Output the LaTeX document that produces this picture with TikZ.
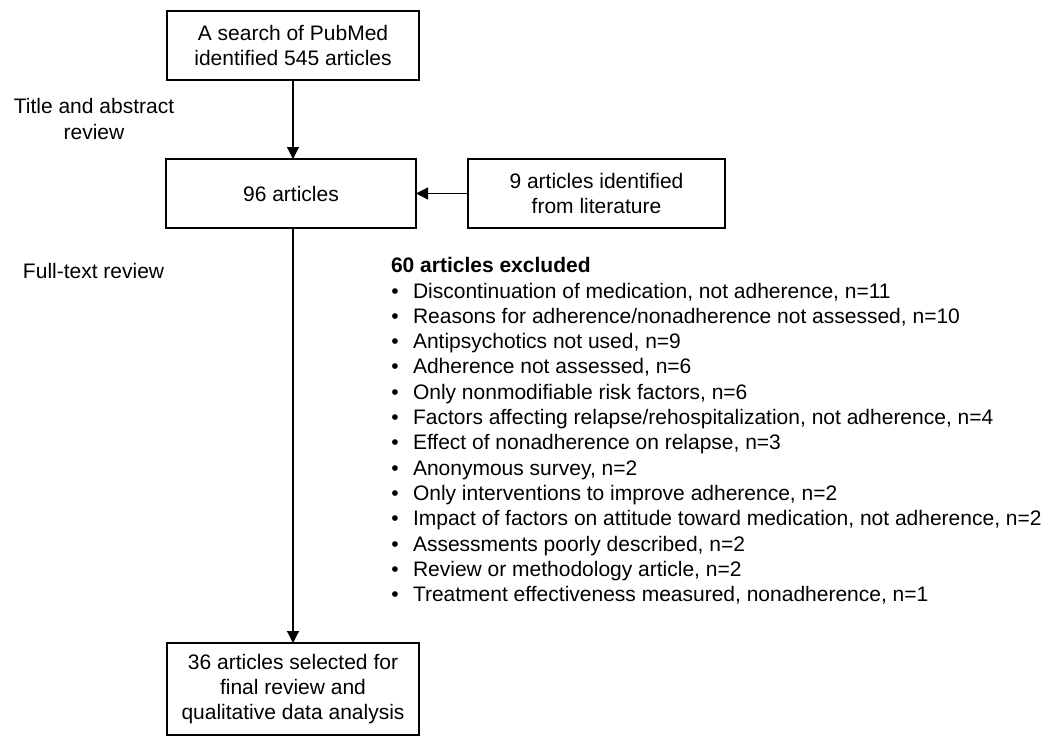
\documentclass[tikz,border=0pt]{standalone}
\usepackage{fontspec}
\setmainfont{Liberation Sans}
\usetikzlibrary{arrows.meta}
\begin{document}
\begin{tikzpicture}[x=1pt,y=-1pt,
  every node/.style={font=\fontsize{21}{25.3}\selectfont, inner sep=0pt, outer sep=0pt},
  box/.style={draw, line width=1.2pt, align=center},
  conn/.style={line width=1.2pt, -{Triangle[width=12pt,length=12pt]}}]
\useasboundingbox (0,0) rectangle (1052,736);
\node[box, minimum width=252pt, minimum height=69pt] (search) at (293,45.5) {A search of PubMed\\identified 545 articles};
\node[box, minimum width=250pt, minimum height=69pt] (n96) at (291,193.5) {96 articles};
\node[box, minimum width=257pt, minimum height=69pt] (lit) at (596.5,193.5) {9 articles identified\\from literature};
\node[box, minimum width=252pt, minimum height=92pt] (final) at (293,689) {36 articles selected for\\final review and\\qualitative data analysis};
\node[align=center] (tar) at (94,119) {Title and abstract\\review};
\node[anchor=base west] (ftr) at (23,278) {Full-text review};
\node[anchor=base west, font=\fontsize{21}{25.3}\selectfont\bfseries] (excl) at (391,272) {60 articles excluded};
\foreach \t [count=\i] in {
  {Discontinuation of medication, not adherence, n=11},
  {Reasons for adherence/nonadherence not assessed, n=10},
  {Antipsychotics not used, n=9},
  {Adherence not assessed, n=6},
  {Only nonmodifiable risk factors, n=6},
  {Factors affecting relapse/rehospitalization, not adherence, n=4},
  {Effect of nonadherence on relapse, n=3},
  {Anonymous survey, n=2},
  {Only interventions to improve adherence, n=2},
  {Impact of factors on attitude toward medication, not adherence, n=2},
  {Assessments poorly described, n=2},
  {Review or methodology article, n=2},
  {Treatment effectiveness measured, nonadherence, n=1}} {
  \pgfmathsetmacro{\yy}{298+25.3*(\i-1)}
  \node[anchor=base] (bul\i) at (395,\yy) {\textbullet};
  \node[anchor=base west] (item\i) at (413,\yy) {\t};
}
\draw[conn] (search.south) -- (search.south |- n96.north);
\draw[conn] (lit.west) -- (n96.east);
\draw[conn] (n96.south -| final.north) -- (final.north);
\end{tikzpicture}
\end{document}
